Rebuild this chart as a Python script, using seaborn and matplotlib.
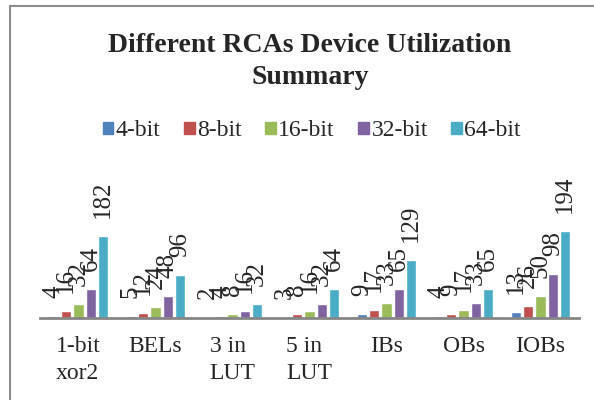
import matplotlib
matplotlib.use('Agg')
import matplotlib.pyplot as plt
import matplotlib.patches as mpatches
import seaborn as sns
import pandas as pd

#------------------------------------------------------------------------------
### Data

categories = ['1-bit\nxor2', 'BELs', '3 in\nLUT', '5 in\nLUT', 'IBs', 'OBs', 'IOBs']
series_names = ['4-bit', '8-bit', '16-bit', '32-bit', '64-bit']
vals_4bit = [4, 5, 2, 3, 9, 4, 13]
vals_8bit = [16, 12, 4, 8, 17, 9, 26]
vals_16bit = [32, 24, 8, 16, 33, 17, 50]
vals_32bit = [64, 48, 16, 32, 65, 33, 98]
vals_64bit = [182, 96, 32, 64, 129, 65, 194]

COLORS = ['#4F81BD', '#C0504D', '#9BBB59', '#8064A2', '#4BACC6']

#------------------------------------------------------------------------------
### Build long table

all_vals = [vals_4bit, vals_8bit, vals_16bit, vals_32bit, vals_64bit]
rows = []
for name, vals in zip(series_names, all_vals):
	for cat, v in zip(categories, vals):
		rows.append({'category': cat, 'series': name, 'value': v})
df = pd.DataFrame(rows)

#------------------------------------------------------------------------------
### Figure

sns.set_style('white')
plt.rcParams['font.family'] = ['Liberation Serif', 'DejaVu Serif']

fig = plt.figure(figsize=(5.94, 4.0), dpi=100)
# axis baseline at y=318 px, 0.448 px per unit
ax = fig.add_axes([40/594, 1-318/400, 539/594, 160/400])

sns.barplot(data=df, x='category', y='value', hue='series', order=categories,
	hue_order=series_names, palette=COLORS, width=0.8, gap=0.15,
	saturation=1, ax=ax, legend=False)

# Value labels above each bar, rotated
for cont in ax.containers:
	ax.bar_label(cont, rotation=90, padding=13, fontsize=18)

ax.set_ylim(0, 160/0.448)
ax.set_xlim(-0.5, len(categories)-0.5)
ax.set_xlabel('')
ax.set_ylabel('')
ax.set_yticks([])
for side in ['top', 'left', 'right']:
	ax.spines[side].set_visible(False)
ax.spines['bottom'].set_color('#868686')
ax.spines['bottom'].set_linewidth(2)
ax.tick_params(axis='x', length=0, labelsize=17, pad=13)
for lab in ax.get_xticklabels():
	lab.set_verticalalignment('top')
	lab.set_multialignment('left')
	lab.set_linespacing(1.35)

# Title
fig.text(0.522, 1-61.5/400, 'Different RCAs Device Utilization\nSummary',
	ha='center', va='center', fontsize=20, fontweight='bold', linespacing=1.32)

# Legend
handles = [mpatches.Patch(color=c, label=n) for c, n in zip(COLORS, series_names)]
fig.legend(handles=handles, loc='center', bbox_to_anchor=(0.525, 1-131/400),
	ncol=5, frameon=False, fontsize=17, handlelength=0.45, handleheight=0.45,
	handletextpad=0.1, columnspacing=1.0, borderpad=0)

# Chart frame
frame = mpatches.Rectangle((10/594, -0.1), 1.1, 1-6/400+0.1, transform=fig.transFigure,
	fill=False, edgecolor='#8C8C8C', linewidth=1.5)
fig.patches.append(frame)

plt.savefig('out.png', dpi=100)
plt.close()
